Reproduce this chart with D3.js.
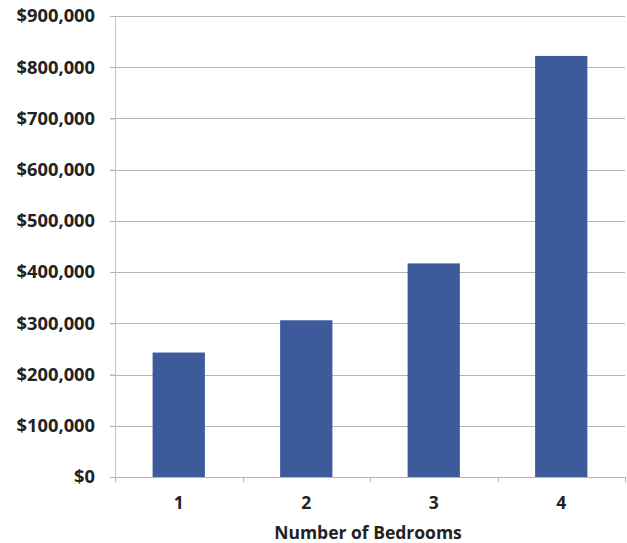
<!DOCTYPE html>
<html>
<head>
<meta charset="utf-8">
<script src="https://cdn.jsdelivr.net/npm/d3@7"></script>
<style>
  html, body { margin: 0; padding: 0; background: #fff; }
  svg { display: block; }
  text { font-family: "Open Sans", Lato, sans-serif; fill: #222; }
</style>
</head>
<body>
<svg id="chart" width="627" height="543"></svg>
<script>
// Median price by number of bedrooms
const bedrooms = ["1", "2", "3", "4"];
const prices = [243000, 306000, 417000, 822000];
const yTicks = [0, 100000, 200000, 300000, 400000, 500000, 600000, 700000, 800000, 900000];
const xTitle = "Number of Bedrooms";

const svg = d3.select("#chart");
const margin = { top: 16, right: 2, bottom: 66, left: 115 };
const width = 627 - margin.left - margin.right;
const height = 543 - margin.top - margin.bottom;

const g = svg.append("g").attr("transform", `translate(${margin.left},${margin.top})`);

const x = d3.scaleBand().domain(bedrooms).range([0, width]).paddingInner(0.59).paddingOuter(0.295);
const y = d3.scaleLinear().domain([0, 900000]).range([height, 0]);

// horizontal gridlines
g.append("g")
  .selectAll("line")
  .data(yTicks.filter(d => d > 0))
  .join("line")
  .attr("x1", -5).attr("x2", width)
  .attr("y1", d => Math.round(y(d)) + 0.5).attr("y2", d => Math.round(y(d)) + 0.5)
  .attr("stroke", "#b4b4b4").attr("stroke-width", 1);

// y axis
const yAxis = g.append("g")
  .call(d3.axisLeft(y).tickValues(yTicks).tickSize(5).tickPadding(15)
    .tickFormat(d => "$" + d3.format(",")(d)));
yAxis.select(".domain").attr("stroke", "#c4c4c4");
yAxis.selectAll(".tick line").attr("stroke", "#b4b4b4");
yAxis.selectAll(".tick text").attr("font-size", 18.3).attr("font-weight", 700).attr("fill", "#222");

// bars
g.append("g")
  .selectAll("rect")
  .data(bedrooms.map((b, i) => ({ b, v: prices[i] })))
  .join("rect")
  .attr("x", d => x(d.b))
  .attr("y", d => y(d.v))
  .attr("width", x.bandwidth())
  .attr("height", d => y(0) - y(d.v))
  .attr("fill", "#3d5b9b");

// x axis with ticks between categories
const step = x.step();
const xAxis = g.append("g").attr("transform", `translate(0,${height})`);
xAxis.append("line")
  .attr("x1", -5).attr("x2", width)
  .attr("y1", 0.5).attr("y2", 0.5)
  .attr("stroke", "#b4b4b4");
xAxis.selectAll("line.tick")
  .data(d3.range(bedrooms.length + 1))
  .join("line")
  .attr("class", "tick")
  .attr("x1", i => Math.round(i * step) + 0.5).attr("x2", i => Math.round(i * step) + 0.5)
  .attr("y1", 0).attr("y2", 5)
  .attr("stroke", "#b4b4b4");
xAxis.selectAll("text")
  .data(bedrooms)
  .join("text")
  .attr("x", d => x(d) + x.bandwidth() / 2)
  .attr("y", 32)
  .attr("text-anchor", "middle")
  .attr("font-size", 17.5).attr("font-weight", 700)
  .text(d => d);

svg.append("text")
  .attr("x", 368)
  .attr("y", 539)
  .attr("text-anchor", "middle")
  .attr("font-size", 17.5).attr("font-weight", 700)
  .text(xTitle);
</script>
</body>
</html>
